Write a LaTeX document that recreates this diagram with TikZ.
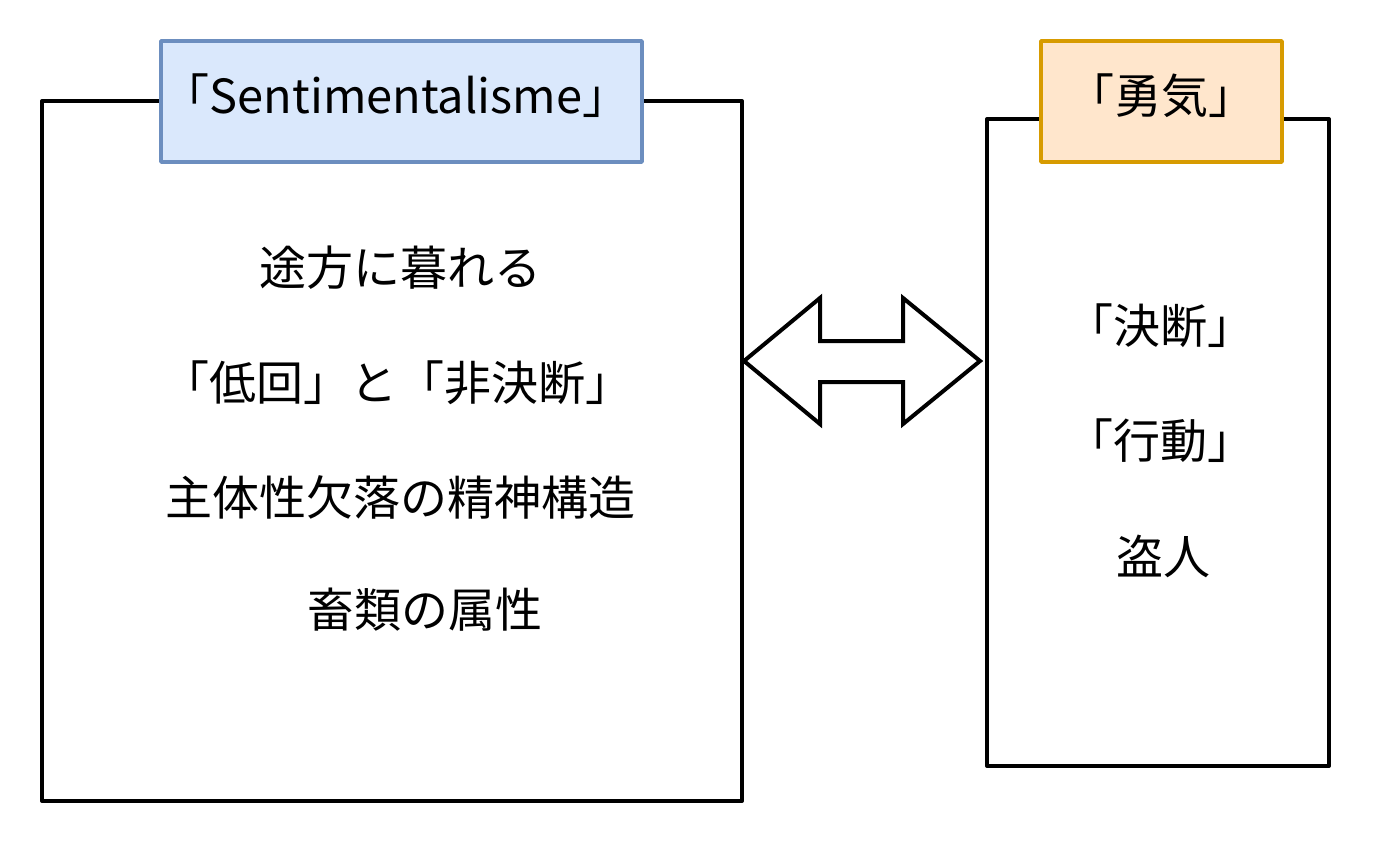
\documentclass[tikz,border=0pt]{standalone}
\usepackage{fontspec}
\setmainfont{Noto Sans CJK JP}
\definecolor{liteblue}{RGB}{218,232,252}
\definecolor{darkblue}{RGB}{108,142,191}
\definecolor{liteorange}{RGB}{255,230,204}
\definecolor{darkorange}{RGB}{215,155,0}
\begin{document}
\begin{tikzpicture}[line cap=round,line join=round,x=0.5pt,y=-0.5pt,font=\fontsize{23.5}{28}\selectfont]
	\useasboundingbox (0,0) rectangle (1384,844);
	\draw [line width=2pt] (42,101) rectangle (742,801);
	\draw [line width=2pt] (987,119) rectangle (1329,766);
	\node [draw=darkblue,fill=liteblue,line width=1.75pt,inner sep=0pt,minimum width=240.5pt,minimum height=60.5pt] (sentibox) at (401.5,101.5) {};
	\node [draw=darkorange,fill=liteorange,line width=1.75pt,inner sep=0pt,minimum width=120.5pt,minimum height=60.5pt] (yuukibox) at (1161.5,101.5) {};
	\node (senti) at (396,96) {「Sentimentalisme」};
	\node (yuuki) at (1161,96) {「勇気」};
	\draw [line width=2pt,line join=miter] (744,361) -- (820,298) -- (820,341) -- (903,341) -- (903,298) -- (980,361) -- (903,424) -- (903,382) -- (820,382) -- (820,424) -- cycle;
	\node (tohou) at (400,268) {途方に暮れる};
	\node (teikai) at (397,383) {「低回」と「非決断」};
	\node (shutai) at (400,497) {主体性欠落の精神構造};
	\node (chikurui) at (425,610) {畜類の属性};
	\node (ketsudan) at (1160,326) {「決断」};
	\node (koudou) at (1160,441) {「行動」};
	\node (nusubito) at (1163,556) {盗人};
\end{tikzpicture}
\end{document}
